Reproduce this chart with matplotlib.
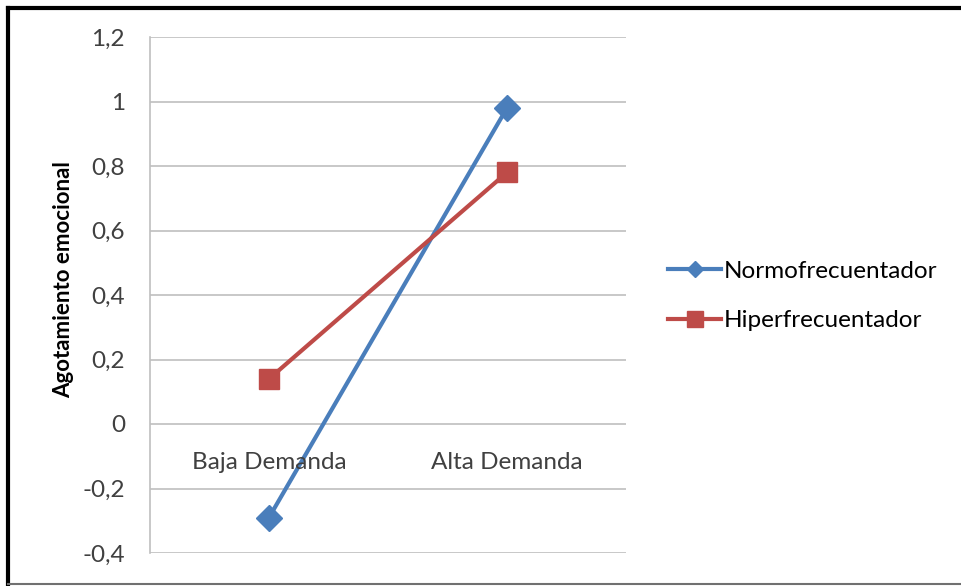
import matplotlib.pyplot as plt
from matplotlib.lines import Line2D

# data
categorias = ['Baja Demanda', 'Alta Demanda']
normofrecuentador = [-0.29, 0.98]
hiperfrecuentador = [0.14, 0.78]
y_ticks = [-0.4, -0.2, 0, 0.2, 0.4, 0.6, 0.8, 1, 1.2]
y_tick_labels = ['-0,4', '-0,2', '0', '0,2', '0,4', '0,6', '0,8', '1', '1,2']

azul = '#4A7EBB'
rojo = '#BE4B48'
gris = '#BFBFBF'
texto = '#404040'

plt.rcParams['font.family'] = ['Lato', 'DejaVu Sans']

fig = plt.figure(figsize=(9.61, 5.86), dpi=100)
ax = fig.add_axes([150 / 961, 1 - 553 / 586, 476 / 961, 516 / 586])

x = [0.5, 1.5]
ax.plot(x, normofrecuentador, color=azul, lw=3, marker='D', ms=13,
        markeredgecolor=azul, label='Normofrecuentador', zorder=3)
ax.plot(x, hiperfrecuentador, color=rojo, lw=3, marker='s', ms=14,
        markeredgecolor=rojo, label='Hiperfrecuentador', zorder=3)

ax.set_xlim(0, 2)
ax.set_ylim(-0.4, 1.2)
ax.set_yticks(y_ticks)
ax.set_yticklabels(y_tick_labels, fontsize=17.5, color=texto)
ax.tick_params(axis='y', length=0, pad=18)
ax.set_xticks([])
ax.grid(axis='y', color=gris, lw=1.2)
ax.set_axisbelow(True)
for s in ['top', 'right', 'bottom']:
    ax.spines[s].set_visible(False)
ax.spines['left'].set_color(gris)
ax.spines['left'].set_linewidth(1.2)

# category labels sit just below the zero line
for xi, c in zip(x, categorias):
    ax.text(xi, -0.118, c, ha='center', va='center', fontsize=17.5, color=texto)

ax.set_ylabel('Agotamiento emocional', fontsize=16, fontweight='bold',
              color='black', va='center')
ax.yaxis.set_label_coords(-86 / 476, 273 / 516)

handles = [Line2D([], [], color=azul, lw=3, marker='D', ms=8),
           Line2D([], [], color=rojo, lw=3, marker='s', ms=11)]
fig.legend(handles, ['Normofrecuentador', 'Hiperfrecuentador'],
           loc='center left', bbox_to_anchor=(646 / 961, 1 - 296 / 586),
           frameon=False, fontsize=17.5, handlelength=2.2, handletextpad=0.1,
           labelspacing=1.17, labelcolor='black')

# outer frame
fig.add_artist(Line2D([8 / 961, 8 / 961], [1 / 586, 1 - 8 / 586],
                      transform=fig.transFigure, color='black', lw=3))
fig.add_artist(Line2D([8 / 961, 1], [1 - 8 / 586, 1 - 8 / 586],
                      transform=fig.transFigure, color='black', lw=3))
fig.add_artist(Line2D([8 / 961, 1], [2 / 586, 2 / 586],
                      transform=fig.transFigure, color='#707070', lw=1.5))

fig.savefig('out.png', dpi=100)
